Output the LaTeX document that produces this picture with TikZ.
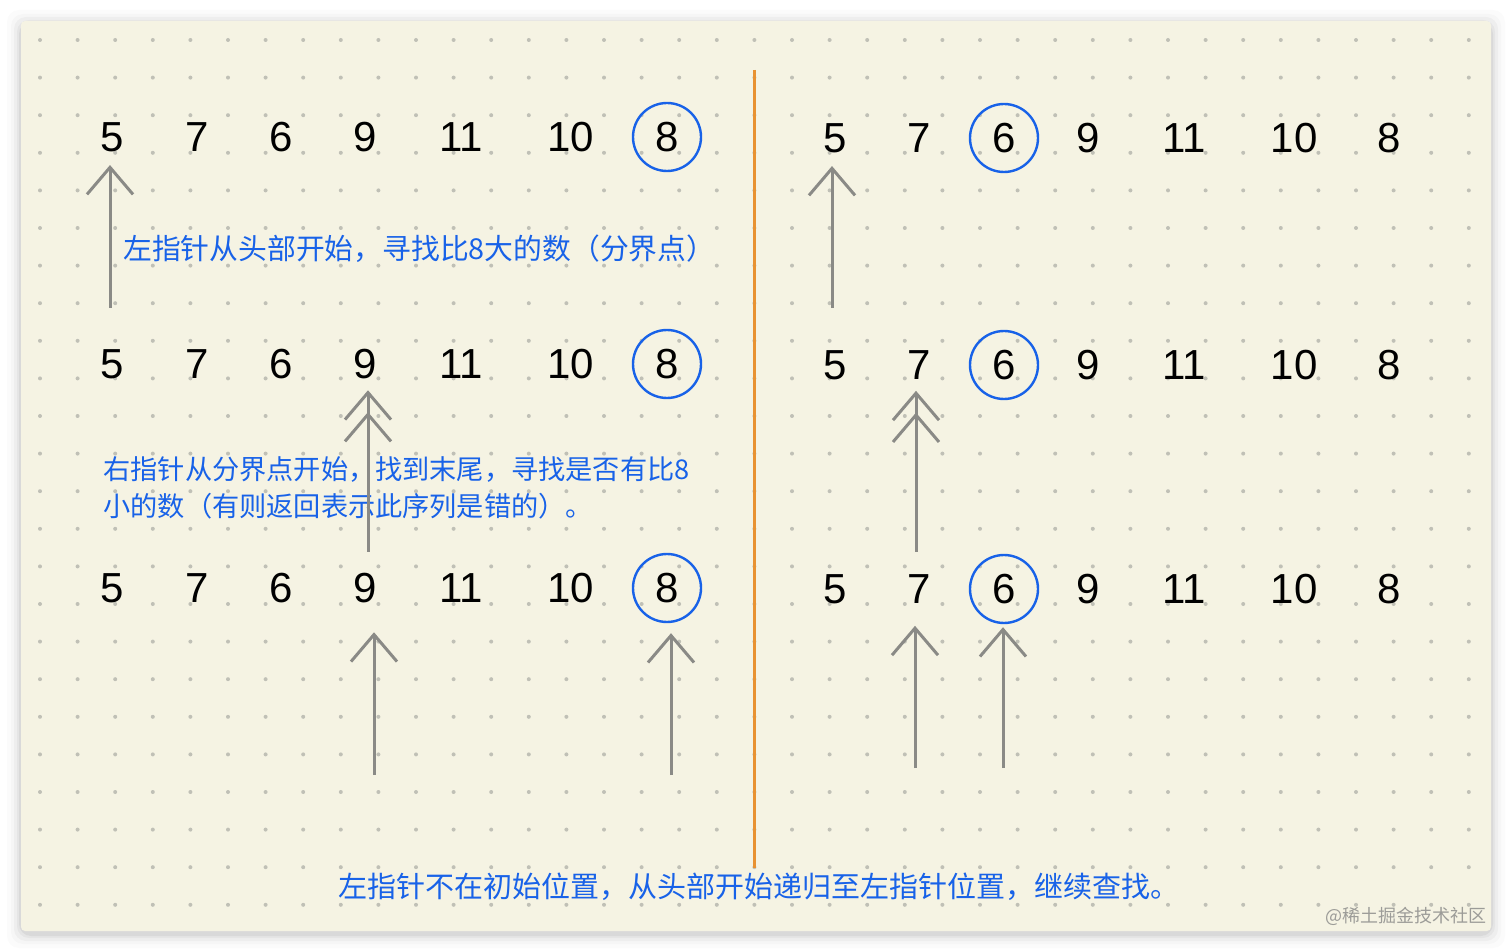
\documentclass[tikz,border=0pt]{standalone}
\usepackage{fontspec}
\setmainfont{Liberation Sans}
\newfontfamily\cjk{Noto Sans CJK SC}
\usetikzlibrary{arrows.meta}
\definecolor{paper}{RGB}{245,243,227}
\definecolor{dotgray}{RGB}{192,192,182}
\definecolor{ptrgray}{RGB}{138,138,134}
\definecolor{markblue}{RGB}{24,98,232}
\definecolor{lineorange}{RGB}{232,146,50}
\tikzstyle{num} = [font=\fontsize{21pt}{21pt}\selectfont, inner sep=0pt]
\tikzstyle{pivot} = [draw=markblue, line width=1.2pt, circle,
    minimum size=34pt, inner sep=0pt]
\tikzstyle{note} = [font=\cjk\fontsize{14pt}{18.5pt}\selectfont,
    text=markblue, inner sep=0pt, anchor=west, align=left]
\tikzstyle{ptr} = [draw=ptrgray, line width=1.5pt,
    -{Straight Barb[length=13.5pt,width=23pt]}]
\tikzstyle{dptr} = [draw=ptrgray, line width=1.5pt,
    -{Straight Barb[length=13.5pt,width=23pt,sep=-4.5pt]Straight Barb[length=13.5pt,width=23pt]}]

\begin{document}
\begin{tikzpicture}[x=0.5pt, y=-0.5pt]
    \useasboundingbox (0,0) rectangle (1512,952);
    % paper with a soft shadow and the dot grid
    \foreach \s/\o in {14/0.015, 10/0.02, 7/0.03, 4/0.04, 2/0.05}
        \fill[black, opacity=\o, rounded corners=6pt]
            (21-\s,21-\s+3) rectangle (1491+\s,931+\s+3);
    \fill[paper, rounded corners=2pt] (21,21) rectangle (1491,931);
    \foreach \i in {0,...,38}
        \foreach \j in {0,...,23}
            \fill[dotgray] (40+37.6*\i,40+37.6*\j) circle (1pt);

    % the divider
    \coordinate (top) at (754,70);
    \coordinate (bottom) at (754,868);
    \draw[lineorange, line width=1.5pt] (top) -- (bottom);

    % the sequences, left half pivots on 8, right half on 6
    \foreach \row/\y in {1/137,2/364,3/588} {
        \foreach \v/\x [count=\i] in {5/112,7/197,6/281,9/365,11/461,10/571,8/667}
            \node[num] (l\row n\i) at (\x,\y) {\v};
        \node[pivot] (lc\row) at (l\row n7) {};
    }
    \foreach \row/\y in {1/138,2/365,3/589} {
        \foreach \v/\x [count=\i] in {5/835,7/919,6/1004,9/1088,11/1184,10/1294,8/1389}
            \node[num] (r\row n\i) at (\x,\y) {\v};
        \node[pivot] (rc\row) at (r\row n3) {};
    }

    % notes
    \node[note, font=\cjk\fontsize{14.4pt}{18.5pt}\selectfont] (step1) at (123,249)
        {左指针从头部开始，寻找比8大的数（分界点）};
    \node[note, font=\cjk\fontsize{13.6pt}{18.5pt}\selectfont] (step2) at (103,488)
        {右指针从分界点开始，找到末尾，寻找是否有比8\\小的数（有则返回表示此序列是错的）。};
    \node[note, font=\cjk\fontsize{14.5pt}{18pt}\selectfont] (step3) at (338,887)
        {左指针不在初始位置，从头部开始递归至左指针位置，继续查找。};
    \node[font=\cjk\fontsize{9pt}{9pt}\selectfont, text=ptrgray!85, anchor=east,
        inner sep=0pt] (mark) at (1487,916) {@稀土掘金技术社区};

    % pointers
    \coordinate (t1) at (110,308);
    \coordinate (t2) at (368,552);
    \coordinate (t3) at (374,775);
    \coordinate (t4) at (671,775);
    \coordinate (t5) at (832,308);
    \coordinate (t6) at (916,552);
    \coordinate (t7) at (915,768);
    \coordinate (t8) at (1003,768);
    \draw[ptr, shorten >=6.5pt] (t1) -- (t1 |- l1n1.south);
    \draw[dptr, shorten >=5.5pt] (t2) -- (t2 |- l2n4.south);
    \draw[ptr, shorten >=14.5pt] (t3) -- (t3 |- l3n4.south);
    \draw[ptr, shorten >=5pt] (t4) -- (t4 |- lc3.south);
    \draw[ptr, shorten >=6.5pt] (t5) -- (t5 |- r1n1.south);
    \draw[dptr, shorten >=5.5pt] (t6) -- (t6 |- r2n2.south);
    \draw[ptr, shorten >=11pt] (t7) -- (t7 |- r3n2.south);
    \draw[ptr, shorten >=1.5pt] (t8) -- (t8 |- rc3.south);
\end{tikzpicture}
\end{document}
